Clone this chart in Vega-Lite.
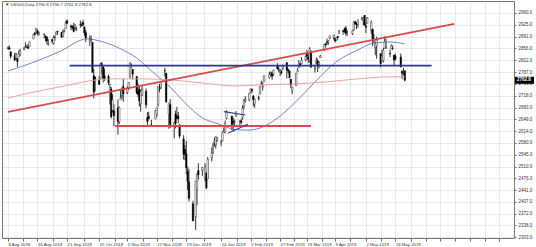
{
  "$schema": "https://vega.github.io/schema/vega-lite/v6.json",
  "width": 512,
  "height": 237,
  "autosize": "none",
  "padding": {"left": 2, "top": 1, "right": 22, "bottom": 9},
  "background": "white",
  "title": {"text": "▼ US500,Daily  2790.9 2790.7 2762.8 2762.8", "anchor": "start", "frame": "group", "orient": "top", "offset": -6, "dx": 3, "fontSize": 4.3, "fontWeight": "normal", "font": "Liberation Sans", "color": "#333333"},
  "config": {
    "view": {"stroke": "#777777", "strokeWidth": 1},
    "axis": {"labelFont": "Liberation Sans", "labelColor": "#333333", "tickColor": "#666666", "domain": false, "labelOverlap": false, "labelFlush": false, "labelBound": false, "gridColor": "#c4c4c4", "gridDash": [1, 1], "gridWidth": 0.7}
  },
  "datasets": {
    "candles": [
      {"d":"2018-08-08","o":2856,"h":2862,"l":2853,"c":2858},
      {"d":"2018-08-09","o":2858,"h":2865,"l":2852,"c":2854},
      {"d":"2018-08-10","o":2846,"h":2848,"l":2826,"c":2833},
      {"d":"2018-08-13","o":2835,"h":2843,"l":2819,"c":2822},
      {"d":"2018-08-14","o":2827,"h":2843,"l":2826,"c":2840},
      {"d":"2018-08-15","o":2827,"h":2828,"l":2802,"c":2818},
      {"d":"2018-08-16","o":2831,"h":2850,"l":2831,"c":2841},
      {"d":"2018-08-17","o":2838,"h":2855,"l":2834,"c":2850},
      {"d":"2018-08-20","o":2853,"h":2860,"l":2851,"c":2857},
      {"d":"2018-08-21","o":2861,"h":2874,"l":2858,"c":2863},
      {"d":"2018-08-22","o":2860,"h":2867,"l":2857,"c":2862},
      {"d":"2018-08-23","o":2860,"h":2869,"l":2854,"c":2857},
      {"d":"2018-08-24","o":2862,"h":2876,"l":2862,"c":2875},
      {"d":"2018-08-27","o":2884,"h":2898,"l":2884,"c":2897},
      {"d":"2018-08-28","o":2901,"h":2904,"l":2893,"c":2898},
      {"d":"2018-08-29","o":2900,"h":2916,"l":2898,"c":2914},
      {"d":"2018-08-30","o":2908,"h":2912,"l":2895,"c":2901},
      {"d":"2018-08-31","o":2898,"h":2906,"l":2893,"c":2902},
      {"d":"2018-09-04","o":2897,"h":2900,"l":2885,"c":2897},
      {"d":"2018-09-05","o":2892,"h":2894,"l":2876,"c":2889},
      {"d":"2018-09-06","o":2889,"h":2893,"l":2868,"c":2878},
      {"d":"2018-09-07","o":2869,"h":2883,"l":2864,"c":2872},
      {"d":"2018-09-10","o":2882,"h":2884,"l":2870,"c":2877},
      {"d":"2018-09-11","o":2871,"h":2893,"l":2867,"c":2888},
      {"d":"2018-09-12","o":2888,"h":2895,"l":2879,"c":2889},
      {"d":"2018-09-13","o":2896,"h":2906,"l":2896,"c":2904},
      {"d":"2018-09-14","o":2906,"h":2908,"l":2896,"c":2905},
      {"d":"2018-09-17","o":2903,"h":2905,"l":2887,"c":2889},
      {"d":"2018-09-18","o":2891,"h":2911,"l":2890,"c":2904},
      {"d":"2018-09-19","o":2906,"h":2912,"l":2903,"c":2908},
      {"d":"2018-09-20","o":2914,"h":2935,"l":2914,"c":2931},
      {"d":"2018-09-21","o":2937,"h":2941,"l":2927,"c":2930},
      {"d":"2018-09-24","o":2922,"h":2926,"l":2909,"c":2919},
      {"d":"2018-09-25","o":2921,"h":2924,"l":2912,"c":2916},
      {"d":"2018-09-26","o":2917,"h":2931,"l":2903,"c":2906},
      {"d":"2018-09-27","o":2911,"h":2928,"l":2910,"c":2914},
      {"d":"2018-09-28","o":2911,"h":2920,"l":2907,"c":2914},
      {"d":"2018-10-01","o":2926,"h":2938,"l":2917,"c":2925},
      {"d":"2018-10-02","o":2924,"h":2932,"l":2920,"c":2923},
      {"d":"2018-10-03","o":2932,"h":2940,"l":2921,"c":2926},
      {"d":"2018-10-04","o":2919,"h":2920,"l":2893,"c":2902},
      {"d":"2018-10-05","o":2902,"h":2910,"l":2874,"c":2886},
      {"d":"2018-10-08","o":2877,"h":2894,"l":2863,"c":2884},
      {"d":"2018-10-09","o":2883,"h":2894,"l":2875,"c":2881},
      {"d":"2018-10-10","o":2874,"h":2874,"l":2785,"c":2786},
      {"d":"2018-10-11","o":2776,"h":2796,"l":2710,"c":2728},
      {"d":"2018-10-12","o":2771,"h":2775,"l":2730,"c":2767},
      {"d":"2018-10-15","o":2763,"h":2775,"l":2749,"c":2751},
      {"d":"2018-10-16","o":2768,"h":2814,"l":2768,"c":2810},
      {"d":"2018-10-17","o":2811,"h":2817,"l":2782,"c":2809},
      {"d":"2018-10-18","o":2802,"h":2807,"l":2756,"c":2769},
      {"d":"2018-10-19","o":2776,"h":2797,"l":2761,"c":2768},
      {"d":"2018-10-22","o":2774,"h":2779,"l":2749,"c":2756},
      {"d":"2018-10-23","o":2722,"h":2754,"l":2692,"c":2741},
      {"d":"2018-10-24","o":2737,"h":2743,"l":2651,"c":2656},
      {"d":"2018-10-25","o":2675,"h":2722,"l":2668,"c":2706},
      {"d":"2018-10-26","o":2674,"h":2693,"l":2628,"c":2659},
      {"d":"2018-10-29","o":2682,"h":2707,"l":2604,"c":2641},
      {"d":"2018-10-30","o":2641,"h":2686,"l":2635,"c":2683},
      {"d":"2018-10-31","o":2705,"h":2737,"l":2705,"c":2712},
      {"d":"2018-11-01","o":2718,"h":2741,"l":2708,"c":2740},
      {"d":"2018-11-02","o":2745,"h":2767,"l":2700,"c":2723},
      {"d":"2018-11-05","o":2727,"h":2745,"l":2722,"c":2738},
      {"d":"2018-11-06","o":2738,"h":2757,"l":2735,"c":2756},
      {"d":"2018-11-07","o":2775,"h":2815,"l":2767,"c":2814},
      {"d":"2018-11-08","o":2807,"h":2812,"l":2798,"c":2807},
      {"d":"2018-11-09","o":2795,"h":2796,"l":2765,"c":2781},
      {"d":"2018-11-12","o":2774,"h":2775,"l":2722,"c":2726},
      {"d":"2018-11-13","o":2731,"h":2754,"l":2714,"c":2722},
      {"d":"2018-11-14","o":2737,"h":2747,"l":2686,"c":2702},
      {"d":"2018-11-15","o":2694,"h":2735,"l":2671,"c":2730},
      {"d":"2018-11-16","o":2719,"h":2747,"l":2717,"c":2736},
      {"d":"2018-11-19","o":2731,"h":2739,"l":2681,"c":2691},
      {"d":"2018-11-20","o":2654,"h":2670,"l":2632,"c":2642},
      {"d":"2018-11-21","o":2657,"h":2671,"l":2649,"c":2650},
      {"d":"2018-11-23","o":2633,"h":2647,"l":2632,"c":2633},
      {"d":"2018-11-26","o":2650,"h":2676,"l":2649,"c":2674},
      {"d":"2018-11-27","o":2663,"h":2683,"l":2655,"c":2682},
      {"d":"2018-11-28","o":2692,"h":2744,"l":2685,"c":2744},
      {"d":"2018-11-29","o":2737,"h":2752,"l":2728,"c":2738},
      {"d":"2018-11-30","o":2741,"h":2760,"l":2737,"c":2760},
      {"d":"2018-12-03","o":2791,"h":2800,"l":2774,"c":2790},
      {"d":"2018-12-04","o":2783,"h":2785,"l":2697,"c":2700},
      {"d":"2018-12-06","o":2663,"h":2697,"l":2621,"c":2696},
      {"d":"2018-12-07","o":2692,"h":2708,"l":2623,"c":2633},
      {"d":"2018-12-10","o":2630,"h":2641,"l":2593,"c":2638},
      {"d":"2018-12-11","o":2664,"h":2674,"l":2622,"c":2637},
      {"d":"2018-12-12","o":2658,"h":2685,"l":2650,"c":2651},
      {"d":"2018-12-13","o":2659,"h":2670,"l":2637,"c":2650},
      {"d":"2018-12-14","o":2629,"h":2635,"l":2593,"c":2600},
      {"d":"2018-12-17","o":2591,"h":2602,"l":2531,"c":2546},
      {"d":"2018-12-18","o":2560,"h":2573,"l":2529,"c":2546},
      {"d":"2018-12-19","o":2547,"h":2585,"l":2488,"c":2507},
      {"d":"2018-12-20","o":2496,"h":2510,"l":2442,"c":2467},
      {"d":"2018-12-21","o":2466,"h":2504,"l":2408,"c":2417},
      {"d":"2018-12-24","o":2401,"h":2410,"l":2351,"c":2351},
      {"d":"2018-12-26","o":2363,"h":2468,"l":2325,"c":2468},
      {"d":"2018-12-27","o":2442,"h":2489,"l":2397,"c":2489},
      {"d":"2018-12-28","o":2498,"h":2520,"l":2472,"c":2486},
      {"d":"2018-12-31","o":2498,"h":2509,"l":2483,"c":2507},
      {"d":"2019-01-02","o":2477,"h":2520,"l":2468,"c":2510},
      {"d":"2019-01-03","o":2491,"h":2493,"l":2444,"c":2448},
      {"d":"2019-01-04","o":2474,"h":2538,"l":2474,"c":2532},
      {"d":"2019-01-07","o":2536,"h":2566,"l":2525,"c":2550},
      {"d":"2019-01-08","o":2568,"h":2580,"l":2547,"c":2574},
      {"d":"2019-01-09","o":2580,"h":2596,"l":2569,"c":2585},
      {"d":"2019-01-10","o":2573,"h":2598,"l":2563,"c":2597},
      {"d":"2019-01-11","o":2588,"h":2597,"l":2582,"c":2596},
      {"d":"2019-01-14","o":2581,"h":2588,"l":2570,"c":2583},
      {"d":"2019-01-15","o":2585,"h":2613,"l":2585,"c":2610},
      {"d":"2019-01-16","o":2614,"h":2625,"l":2612,"c":2616},
      {"d":"2019-01-17","o":2610,"h":2645,"l":2607,"c":2636},
      {"d":"2019-01-18","o":2651,"h":2675,"l":2648,"c":2671},
      {"d":"2019-01-22","o":2657,"h":2660,"l":2617,"c":2633},
      {"d":"2019-01-23","o":2643,"h":2653,"l":2613,"c":2639},
      {"d":"2019-01-24","o":2639,"h":2648,"l":2628,"c":2642},
      {"d":"2019-01-25","o":2658,"h":2673,"l":2657,"c":2665},
      {"d":"2019-01-28","o":2644,"h":2645,"l":2625,"c":2644},
      {"d":"2019-01-29","o":2644,"h":2651,"l":2634,"c":2640},
      {"d":"2019-01-30","o":2654,"h":2690,"l":2648,"c":2681},
      {"d":"2019-01-31","o":2686,"h":2708,"l":2678,"c":2704},
      {"d":"2019-02-01","o":2703,"h":2716,"l":2697,"c":2707},
      {"d":"2019-02-04","o":2706,"h":2725,"l":2701,"c":2725},
      {"d":"2019-02-05","o":2728,"h":2738,"l":2725,"c":2738},
      {"d":"2019-02-06","o":2736,"h":2739,"l":2725,"c":2732},
      {"d":"2019-02-07","o":2717,"h":2719,"l":2687,"c":2706},
      {"d":"2019-02-08","o":2693,"h":2709,"l":2682,"c":2708},
      {"d":"2019-02-11","o":2712,"h":2718,"l":2703,"c":2710},
      {"d":"2019-02-12","o":2722,"h":2745,"l":2722,"c":2745},
      {"d":"2019-02-13","o":2751,"h":2762,"l":2749,"c":2753},
      {"d":"2019-02-14","o":2743,"h":2758,"l":2733,"c":2746},
      {"d":"2019-02-15","o":2760,"h":2776,"l":2758,"c":2776},
      {"d":"2019-02-19","o":2770,"h":2788,"l":2768,"c":2780},
      {"d":"2019-02-20","o":2780,"h":2789,"l":2774,"c":2785},
      {"d":"2019-02-21","o":2785,"h":2786,"l":2764,"c":2775},
      {"d":"2019-02-22","o":2780,"h":2794,"l":2776,"c":2793},
      {"d":"2019-02-25","o":2805,"h":2813,"l":2794,"c":2796},
      {"d":"2019-02-26","o":2793,"h":2804,"l":2786,"c":2794},
      {"d":"2019-02-27","o":2787,"h":2796,"l":2775,"c":2792},
      {"d":"2019-02-28","o":2788,"h":2793,"l":2780,"c":2785},
      {"d":"2019-03-01","o":2798,"h":2809,"l":2792,"c":2804},
      {"d":"2019-03-04","o":2814,"h":2816,"l":2768,"c":2793},
      {"d":"2019-03-05","o":2795,"h":2795,"l":2783,"c":2790},
      {"d":"2019-03-06","o":2790,"h":2791,"l":2768,"c":2771},
      {"d":"2019-03-07","o":2766,"h":2767,"l":2740,"c":2749},
      {"d":"2019-03-08","o":2731,"h":2744,"l":2722,"c":2743},
      {"d":"2019-03-11","o":2747,"h":2784,"l":2747,"c":2783},
      {"d":"2019-03-12","o":2787,"h":2798,"l":2787,"c":2792},
      {"d":"2019-03-13","o":2799,"h":2822,"l":2799,"c":2811},
      {"d":"2019-03-14","o":2811,"h":2815,"l":2802,"c":2808},
      {"d":"2019-03-15","o":2811,"h":2831,"l":2811,"c":2822},
      {"d":"2019-03-18","o":2823,"h":2835,"l":2818,"c":2833},
      {"d":"2019-03-19","o":2840,"h":2852,"l":2823,"c":2833},
      {"d":"2019-03-20","o":2831,"h":2843,"l":2813,"c":2824},
      {"d":"2019-03-21","o":2819,"h":2860,"l":2817,"c":2855},
      {"d":"2019-03-22","o":2847,"h":2851,"l":2800,"c":2801},
      {"d":"2019-03-25","o":2797,"h":2809,"l":2785,"c":2798},
      {"d":"2019-03-26","o":2812,"h":2830,"l":2812,"c":2819},
      {"d":"2019-03-27","o":2819,"h":2826,"l":2787,"c":2805},
      {"d":"2019-03-28","o":2809,"h":2819,"l":2798,"c":2815},
      {"d":"2019-03-29","o":2829,"h":2837,"l":2828,"c":2834},
      {"d":"2019-04-01","o":2849,"h":2870,"l":2849,"c":2867},
      {"d":"2019-04-02","o":2869,"h":2872,"l":2859,"c":2867},
      {"d":"2019-04-03","o":2876,"h":2885,"l":2866,"c":2873},
      {"d":"2019-04-04","o":2874,"h":2881,"l":2867,"c":2879},
      {"d":"2019-04-05","o":2885,"h":2893,"l":2883,"c":2893},
      {"d":"2019-04-08","o":2889,"h":2896,"l":2882,"c":2896},
      {"d":"2019-04-09","o":2886,"h":2886,"l":2873,"c":2878},
      {"d":"2019-04-10","o":2881,"h":2889,"l":2879,"c":2888},
      {"d":"2019-04-11","o":2891,"h":2893,"l":2882,"c":2888},
      {"d":"2019-04-12","o":2900,"h":2910,"l":2899,"c":2907},
      {"d":"2019-04-15","o":2908,"h":2909,"l":2896,"c":2906},
      {"d":"2019-04-16","o":2912,"h":2917,"l":2901,"c":2907},
      {"d":"2019-04-17","o":2916,"h":2922,"l":2894,"c":2900},
      {"d":"2019-04-18","o":2904,"h":2909,"l":2892,"c":2905},
      {"d":"2019-04-22","o":2899,"h":2910,"l":2896,"c":2908},
      {"d":"2019-04-23","o":2910,"h":2936,"l":2909,"c":2934},
      {"d":"2019-04-24","o":2934,"h":2937,"l":2927,"c":2927},
      {"d":"2019-04-25","o":2929,"h":2933,"l":2913,"c":2926},
      {"d":"2019-04-26","o":2926,"h":2940,"l":2917,"c":2940},
      {"d":"2019-04-29","o":2941,"h":2949,"l":2940,"c":2943},
      {"d":"2019-04-30","o":2937,"h":2948,"l":2924,"c":2946},
      {"d":"2019-05-01","o":2953,"h":2954,"l":2923,"c":2924},
      {"d":"2019-05-02","o":2922,"h":2932,"l":2901,"c":2918},
      {"d":"2019-05-03","o":2930,"h":2948,"l":2930,"c":2946},
      {"d":"2019-05-06","o":2909,"h":2938,"l":2899,"c":2932},
      {"d":"2019-05-07","o":2913,"h":2913,"l":2863,"c":2884},
      {"d":"2019-05-08","o":2880,"h":2898,"l":2871,"c":2879},
      {"d":"2019-05-09","o":2859,"h":2876,"l":2836,"c":2871},
      {"d":"2019-05-10","o":2863,"h":2891,"l":2826,"c":2881},
      {"d":"2019-05-13","o":2841,"h":2841,"l":2801,"c":2812},
      {"d":"2019-05-14","o":2820,"h":2852,"l":2820,"c":2834},
      {"d":"2019-05-15","o":2820,"h":2858,"l":2815,"c":2851},
      {"d":"2019-05-16","o":2856,"h":2892,"l":2856,"c":2876},
      {"d":"2019-05-17","o":2858,"h":2885,"l":2855,"c":2860},
      {"d":"2019-05-20","o":2841,"h":2853,"l":2831,"c":2840},
      {"d":"2019-05-21","o":2855,"h":2868,"l":2855,"c":2864},
      {"d":"2019-05-22","o":2856,"h":2865,"l":2851,"c":2856},
      {"d":"2019-05-23","o":2837,"h":2837,"l":2805,"c":2822},
      {"d":"2019-05-24","o":2833,"h":2841,"l":2821,"c":2826},
      {"d":"2019-05-28","o":2831,"h":2841,"l":2801,"c":2802},
      {"d":"2019-05-29","o":2790,"h":2792,"l":2766,"c":2783},
      {"d":"2019-05-30","o":2786,"h":2799,"l":2777,"c":2789},
      {"d":"2019-05-31","o":2790.7,"h":2790.9,"l":2760,"c":2762.8}
    ],
    "ma50": [
      {"d":"2018-08-08","p":2790},{"d":"2018-08-28","p":2817},{"d":"2018-09-15","p":2846},{"d":"2018-10-06","p":2884},
      {"d":"2018-10-18","p":2875},{"d":"2018-10-31","p":2855},{"d":"2018-11-12","p":2828},{"d":"2018-11-24","p":2787},
      {"d":"2018-12-07","p":2743},{"d":"2018-12-18","p":2697},{"d":"2018-12-31","p":2653},{"d":"2019-01-12","p":2635},
      {"d":"2019-01-24","p":2619},{"d":"2019-02-03","p":2617},{"d":"2019-02-12","p":2623},{"d":"2019-02-26","p":2655},
      {"d":"2019-03-12","p":2705},{"d":"2019-03-25","p":2758},{"d":"2019-04-09","p":2814},{"d":"2019-04-26","p":2852},
      {"d":"2019-05-08","p":2872},{"d":"2019-05-20","p":2875},{"d":"2019-05-31","p":2869}
    ],
    "ma200": [
      {"d":"2018-08-08","p":2711},{"d":"2018-08-28","p":2729},{"d":"2018-09-19","p":2746},{"d":"2018-10-09","p":2762},
      {"d":"2018-10-26","p":2767},{"d":"2018-11-17","p":2767},{"d":"2018-12-07","p":2764},{"d":"2018-12-31","p":2755},
      {"d":"2019-01-24","p":2746},{"d":"2019-02-12","p":2749},{"d":"2019-03-08","p":2752},{"d":"2019-04-02","p":2758},
      {"d":"2019-04-26","p":2767},{"d":"2019-05-20","p":2773},{"d":"2019-05-31","p":2773}
    ],
    "redlines": [
      {"n":"trend","d":"2018-08-08","p":2670},{"n":"trend","d":"2019-07-07","p":2928},
      {"n":"support","d":"2018-10-27","p":2629},{"n":"support","d":"2019-03-22","p":2629}
    ],
    "navyline": [
      {"n":"res","d":"2018-09-23","p":2806},{"n":"res","d":"2019-06-20","p":2806}
    ],
    "pennant": [
      {"n":"up","d":"2019-01-16","p":2671},{"n":"up","d":"2019-02-01","p":2661},
      {"n":"lo","d":"2019-01-19","p":2608},{"n":"lo","d":"2019-02-03","p":2634}
    ],
    "last": [{"p":2762.8}]
  },
  "encoding": {
    "x": {
      "field": "d", "type": "temporal", "title": null,
      "scale": {"type": "utc", "domain": [{"year":2018,"month":8,"date":7,"hours":6,"utc":true},{"year":2019,"month":8,"date":16,"hours":18,"utc":true}]},
      "axis": {
        "orient": "bottom", "format": "%-d %b %Y", "labelAlign": "left", "labelPadding": 1, "labelFontSize": 4.3, "tickSize": 3, "grid": true, "labelOverlap": false, "tickCount": 80,
        "labelExpr": "utchours(datum.value) == 0 ? datum.label : ''",
        "values": [
          {"year":2018,"month":8,"date":8,"utc":true},{"year":2018,"month":8,"date":19,"hours":12,"utc":true},
          {"year":2018,"month":8,"date":30,"utc":true},{"year":2018,"month":9,"date":10,"hours":12,"utc":true},
          {"year":2018,"month":9,"date":21,"utc":true},{"year":2018,"month":10,"date":3,"hours":12,"utc":true},
          {"year":2018,"month":10,"date":15,"utc":true},{"year":2018,"month":10,"date":26,"hours":12,"utc":true},
          {"year":2018,"month":11,"date":5,"utc":true},{"year":2018,"month":11,"date":16,"hours":12,"utc":true},
          {"year":2018,"month":11,"date":27,"utc":true},{"year":2018,"month":12,"date":8,"hours":12,"utc":true},
          {"year":2018,"month":12,"date":19,"utc":true},{"year":2019,"month":1,"date":1,"hours":12,"utc":true},
          {"year":2019,"month":1,"date":14,"utc":true},{"year":2019,"month":1,"date":25,"hours":12,"utc":true},
          {"year":2019,"month":2,"date":5,"utc":true},{"year":2019,"month":2,"date":16,"hours":12,"utc":true},
          {"year":2019,"month":2,"date":27,"utc":true},{"year":2019,"month":3,"date":9,"hours":12,"utc":true},
          {"year":2019,"month":3,"date":19,"utc":true},{"year":2019,"month":3,"date":30,"hours":12,"utc":true},
          {"year":2019,"month":4,"date":9,"utc":true},{"year":2019,"month":4,"date":20,"hours":12,"utc":true},
          {"year":2019,"month":5,"date":2,"utc":true},{"year":2019,"month":5,"date":13,"hours":12,"utc":true},
          {"year":2019,"month":5,"date":24,"utc":true},{"year":2019,"month":6,"date":4,"hours":12,"utc":true},
          {"year":2019,"month":6,"date":15,"hours":12,"utc":true},{"year":2019,"month":6,"date":26,"hours":12,"utc":true},
          {"year":2019,"month":7,"date":7,"hours":12,"utc":true},{"year":2019,"month":7,"date":18,"hours":12,"utc":true},
          {"year":2019,"month":7,"date":29,"hours":12,"utc":true},{"year":2019,"month":8,"date":9,"hours":12,"utc":true}
        ]
      }
    }
  },
  "layer": [
    {
      "data": {"name": "candles"},
      "mark": {"type": "rule", "color": "#000000", "strokeWidth": 0.8},
      "encoding": {
        "y": {
          "field": "l", "type": "quantitative", "title": null,
          "scale": {"domain": [2301, 2995], "nice": false, "zero": false},
          "axis": {
            "orient": "right", "format": ".1f", "labelFontSize": 4.5, "labelPadding": 2, "tickSize": 2, "grid": true, "labelAlign": "left", "labelOverlap": false, "tickCount": 60,
            "values": [2303, 2338, 2372, 2407, 2441, 2476, 2510, 2545, 2580, 2614, 2649, 2683, 2718, 2753, 2787, 2822, 2856, 2891, 2925, 2960]
          }
        },
        "y2": {"field": "h"}
      }
    },
    {
      "data": {"name": "candles"},
      "mark": {"type": "bar", "width": 1.5, "stroke": "#000000", "strokeWidth": 0.4},
      "encoding": {
        "y": {"field": "o", "type": "quantitative", "title": null},
        "y2": {"field": "c"},
        "fill": {"condition": {"test": "datum.c >= datum.o", "value": "#ffffff"}, "value": "#000000"}
      }
    },
    {
      "data": {"name": "ma50"},
      "mark": {"type": "line", "color": "#6478c4", "strokeWidth": 0.9, "interpolate": "monotone"},
      "encoding": {"y": {"field": "p", "type": "quantitative", "title": null}}
    },
    {
      "data": {"name": "ma200"},
      "mark": {"type": "line", "color": "#e89a9a", "strokeWidth": 0.9, "interpolate": "monotone"},
      "encoding": {"y": {"field": "p", "type": "quantitative", "title": null}}
    },
    {
      "data": {"name": "redlines"},
      "mark": {"type": "line", "color": "#d94c4c", "strokeWidth": 1.8},
      "encoding": {"y": {"field": "p", "type": "quantitative", "title": null}, "detail": {"field": "n"}}
    },
    {
      "data": {"name": "navyline"},
      "mark": {"type": "line", "color": "#2c3a8e", "strokeWidth": 1.8},
      "encoding": {"y": {"field": "p", "type": "quantitative", "title": null}, "detail": {"field": "n"}}
    },
    {
      "data": {"name": "pennant"},
      "mark": {"type": "line", "color": "#2c3a8e", "strokeWidth": 1.1},
      "encoding": {"y": {"field": "p", "type": "quantitative", "title": null}, "detail": {"field": "n"}}
    },
    {
      "data": {"name": "last"},
      "mark": {"type": "rect", "color": "#000000", "xOffset": 1, "x2Offset": 20, "yOffset": -3.5, "y2Offset": 3.5, "clip": false},
      "encoding": {
        "x": {"value": "width"},
        "x2": {"value": "width"},
        "y": {"field": "p", "type": "quantitative", "title": null},
        "y2": {"field": "p"}
      }
    },
    {
      "data": {"name": "last"},
      "mark": {"type": "text", "color": "#ffffff", "align": "left", "baseline": "middle", "dx": 3, "fontSize": 4.5, "font": "Liberation Sans", "fontWeight": "bold", "clip": false},
      "encoding": {
        "x": {"value": "width"},
        "y": {"field": "p", "type": "quantitative", "title": null},
        "text": {"field": "p", "type": "quantitative", "format": ".1f"}
      }
    }
  ]
}
